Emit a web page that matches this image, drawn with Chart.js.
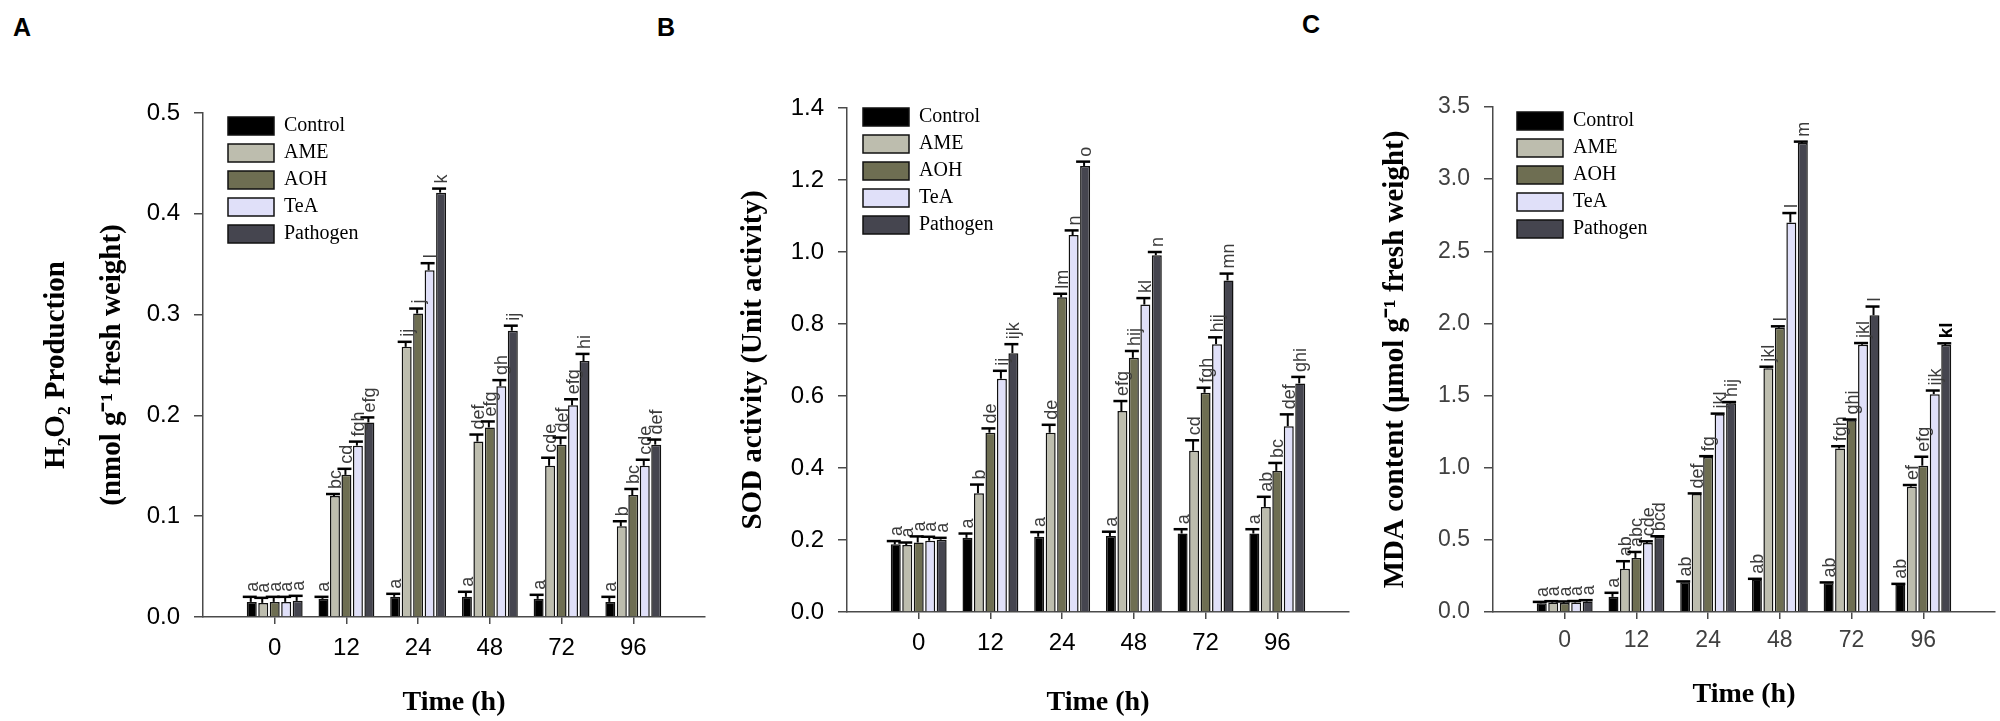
<!DOCTYPE html>
<html>
<head>
<meta charset="utf-8">
<script src="https://cdn.jsdelivr.net/npm/chart.js@4.4.1/dist/chart.umd.min.js"></script>
<style>
  body { margin: 0; background: #fff; width: 2000px; height: 721px; position: relative; overflow: hidden; }
  .panel { position: absolute; top: 0; width: 710px; height: 721px; }
  .tag { position: absolute; font: bold 25px/26px "Liberation Sans", Arial, sans-serif; color: #000; }
</style>
</head>
<body>
<div class="tag" style="left:13px;top:14px">A</div>
<div class="tag" style="left:657px;top:14px">B</div>
<div class="tag" style="left:1302px;top:11px">C</div>
<div class="panel" style="left:0px"><canvas id="chartA" width="710" height="721"></canvas></div>
<div class="panel" style="left:644px"><canvas id="chartB" width="710" height="721"></canvas></div>
<div class="panel" style="left:1290px"><canvas id="chartC" width="710" height="721"></canvas></div>
<script>
const times = ['0', '12', '24', '48', '72', '96'];
const treatments = ['Control', 'AME', 'AOH', 'TeA', 'Pathogen'];
const fills = ['#000000', '#bdbdae', '#6e6e52', '#e0e0f9', '#45454f'];

// A - H2O2 production, one row per treatment
const h2o2Mean = [
  [0.015, 0.018, 0.020, 0.020, 0.018, 0.015],
  [0.014, 0.120, 0.268, 0.174, 0.150, 0.090],
  [0.015, 0.141, 0.301, 0.188, 0.171, 0.121],
  [0.015, 0.170, 0.344, 0.229, 0.210, 0.150],
  [0.016, 0.193, 0.421, 0.284, 0.254, 0.171]
];
const h2o2Err = [
  [0.005, 0.002, 0.003, 0.005, 0.004, 0.005],
  [0.005, 0.002, 0.005, 0.007, 0.008, 0.005],
  [0.005, 0.006, 0.005, 0.006, 0.007, 0.006],
  [0.005, 0.004, 0.007, 0.006, 0.006, 0.006],
  [0.005, 0.005, 0.004, 0.005, 0.007, 0.005]
];
const h2o2Letters = [
  ['a', 'a', 'a', 'a', 'a', 'a'],
  ['a', 'bc', 'ij', 'def', 'cde', 'b'],
  ['a', 'cd', 'j', 'efg', 'def', 'bc'],
  ['a', 'fgh', 'l', 'gh', 'efg', 'cde'],
  ['a', 'efg', 'k', 'ij', 'hi', 'def']
];

// B - SOD activity
const sodMean = [
  [0.188, 0.206, 0.209, 0.211, 0.218, 0.218],
  [0.186, 0.330, 0.498, 0.558, 0.448, 0.292],
  [0.193, 0.498, 0.874, 0.706, 0.609, 0.392],
  [0.198, 0.648, 1.047, 0.854, 0.744, 0.516],
  [0.201, 0.719, 1.239, 0.991, 0.921, 0.635]
];
const sodErr = [
  [0.009, 0.012, 0.013, 0.012, 0.012, 0.012],
  [0.007, 0.024, 0.022, 0.028, 0.029, 0.028],
  [0.017, 0.012, 0.010, 0.019, 0.014, 0.022],
  [0.011, 0.022, 0.013, 0.018, 0.019, 0.033],
  [0.005, 0.025, 0.012, 0.009, 0.019, 0.018]
];
const sodLetters = [
  ['a', 'a', 'a', 'a', 'a', 'a'],
  ['a', 'b', 'de', 'efg', 'cd', 'ab'],
  ['a', 'de', 'lm', 'hij', 'fgh', 'bc'],
  ['a', 'ij', 'n', 'kl', 'hij', 'def'],
  ['a', 'ijk', 'o', 'n', 'mn', 'ghi']
];

// C - MDA content
const mdaMean = [
  [0.060, 0.105, 0.207, 0.225, 0.200, 0.190],
  [0.065, 0.299, 0.817, 1.690, 1.133, 0.868],
  [0.063, 0.375, 1.075, 1.970, 1.329, 1.014],
  [0.066, 0.478, 1.370, 2.700, 1.852, 1.510],
  [0.072, 0.520, 1.446, 3.250, 2.057, 1.850]
];
const mdaErr = [
  [0.010, 0.028, 0.005, 0.005, 0.005, 0.005],
  [0.010, 0.053, 0.005, 0.010, 0.016, 0.012],
  [0.010, 0.041, 0.005, 0.010, 0.005, 0.062],
  [0.010, 0.012, 0.005, 0.065, 0.012, 0.025],
  [0.010, 0.005, 0.009, 0.010, 0.060, 0.012]
];
const mdaLetters = [
  ['a', 'a', 'ab', 'ab', 'ab', 'ab'],
  ['a', 'ab', 'def', 'jkl', 'fgh', 'ef'],
  ['a', 'abc', 'fg', 'l', 'ghi', 'efg'],
  ['a', 'cde', 'jkl', 'l', 'jkl', 'ijk'],
  ['a', 'bcd', 'hij', 'm', 'l', 'kl']
];

const errorBars = {
  id: 'errorBars',
  afterDatasetsDraw(chart) {
    const ctx = chart.ctx;
    const y = chart.scales.y;
    chart.data.datasets.forEach((ds, d) => {
      chart.getDatasetMeta(d).data.forEach((bar, i) => {
        const w = bar.width;
        const x = bar.x;
        const yErr = y.getPixelForValue(ds.data[i].y + ds.errors[i]);
        ctx.save();
        ctx.strokeStyle = '#000';
        ctx.lineWidth = 2;
        ctx.beginPath();
        ctx.moveTo(x - 1, bar.y);
        ctx.lineTo(x - 1, yErr);
        ctx.stroke();
        ctx.lineWidth = 2.5;
        ctx.beginPath();
        ctx.moveTo(x - w * 0.9, yErr);
        ctx.lineTo(x + w * 0.5, yErr);
        ctx.stroke();
        const bold = (ds.boldLetters || []).includes(i);
        ctx.font = (bold ? 'bold 19px ' : '18px ') + '"Liberation Sans", Arial, sans-serif';
        ctx.fillStyle = bold ? '#000' : '#3c3c3c';
        ctx.translate(x + 1, yErr - 5);
        ctx.rotate(-Math.PI / 2);
        ctx.textAlign = 'left';
        ctx.textBaseline = 'middle';
        ctx.fillText(ds.letters[i], 0, 0);
        ctx.restore();
      });
    });
  }
};

// put the legend where it sits in the figure, inside the plot
const legendNudge = {
  id: 'legendNudge',
  afterLayout(chart, args, opts) {
    const lg = chart.legend;
    const a = chart.chartArea;
    lg.left = a.left + opts.dx - 7;
    lg.top = a.top + opts.dy - 8;
  }
};

function makeChart(id, c) {
  const datasets = treatments.map((name, d) => ({
    label: name,
    data: c.mean[d].map((v, i) => ({ x: i, y: v })),
    errors: c.err[d],
    letters: c.letters[d],
    boldLetters: d === 4 ? c.boldLast || [] : [],
    backgroundColor: fills[d],
    borderColor: '#111',
    borderWidth: 1.5,
    categoryPercentage: 0.8,
    barPercentage: 0.87
  }));

  const tickFont = c.narrow
    ? { family: "'Liberation Sans Narrow', 'Liberation Sans', Arial, sans-serif", size: 23 }
    : { family: "'Liberation Sans', Arial, sans-serif", size: 24 };
  const tickColor = c.narrow ? '#404040' : '#000';
  const axisColor = '#4a4a4a';
  const serif = "'Liberation Serif', 'Times New Roman', serif";

  return new Chart(document.getElementById(id), {
    type: 'bar',
    data: { datasets },
    plugins: [errorBars, legendNudge],
    options: {
      responsive: false,
      animation: false,
      devicePixelRatio: 1,
      layout: { padding: { top: c.top, right: 5, bottom: 0, left: 0 } },
      plugins: {
        legend: {
          position: 'chartArea',
          align: 'start',
          labels: {
            boxWidth: 46,
            boxHeight: 18,
            padding: 7,
            color: '#000',
            font: { family: serif, size: 20 }
          }
        },
        legendNudge: { dx: c.legendDx, dy: c.legendDy },
        tooltip: { enabled: false }
      },
      scales: {
        x: {
          type: 'linear',
          min: -1,
          max: 6,
          offset: false,
          afterFit: s => { s.height = 721 - c.bottom; },
          afterBuildTicks: s => { s.ticks = times.map((t, i) => ({ value: i })); },
          grid: { offset: false, drawOnChartArea: false, tickLength: 7, color: axisColor, lineWidth: 1.5 },
          border: { color: axisColor, width: 1.5 },
          ticks: {
            autoSkip: false,
            maxRotation: 0,
            padding: c.narrow ? 8 : 10,
            color: tickColor,
            font: tickFont,
            callback: v => times[v]
          },
          title: {
            display: true,
            text: 'Time (h)',
            color: '#000',
            font: { family: serif, size: 28, weight: 'bold', lineHeight: 1.2 },
            padding: { top: 0, bottom: c.xTitlePad }
          }
        },
        y: {
          min: 0,
          max: c.yMax,
          afterFit: s => { s.width = 203; },
          grid: { drawOnChartArea: false, tickLength: 9, color: axisColor, lineWidth: 1.5 },
          border: { color: axisColor, width: 1.5 },
          ticks: {
            stepSize: c.yStep,
            padding: 14,
            color: tickColor,
            font: tickFont,
            callback: v => v.toFixed(1)
          },
          title: {
            display: true,
            text: c.yTitle,
            color: '#000',
            font: { family: serif, size: 29, weight: 'bold', lineHeight: c.yTitleLH },
            padding: { top: c.yTitlePad, bottom: 0 }
          }
        }
      }
    }
  });
}

makeChart('chartA', {
  mean: h2o2Mean, err: h2o2Err, letters: h2o2Letters,
  yMax: 0.5, yStep: 0.1,
  yTitle: ['H\u2082O\u2082 Production', '(nmol g\u207B\u00B9 fresh weight)'],
  yTitleLH: 1.93, yTitlePad: 29,
  top: 113, bottom: 617, xTitlePad: 1,
  legendDx: 25, legendDy: 4
});

makeChart('chartB', {
  mean: sodMean, err: sodErr, letters: sodLetters,
  yMax: 1.4, yStep: 0.2,
  yTitle: 'SOD activity (Unit activity)',
  yTitleLH: 1.2, yTitlePad: 92,
  top: 108, bottom: 612, xTitlePad: 1,
  legendDx: 16, legendDy: 0
});

makeChart('chartC', {
  mean: mdaMean, err: mdaErr, letters: mdaLetters, boldLast: [5],
  yMax: 3.5, yStep: 0.5,
  yTitle: 'MDA content (\u00B5mol g\u207B\u00B9 fresh weight)',
  yTitleLH: 1.2, yTitlePad: 88,
  top: 107, bottom: 612, xTitlePad: 9, narrow: true,
  legendDx: 24, legendDy: 5
});
</script>
</body>
</html>
